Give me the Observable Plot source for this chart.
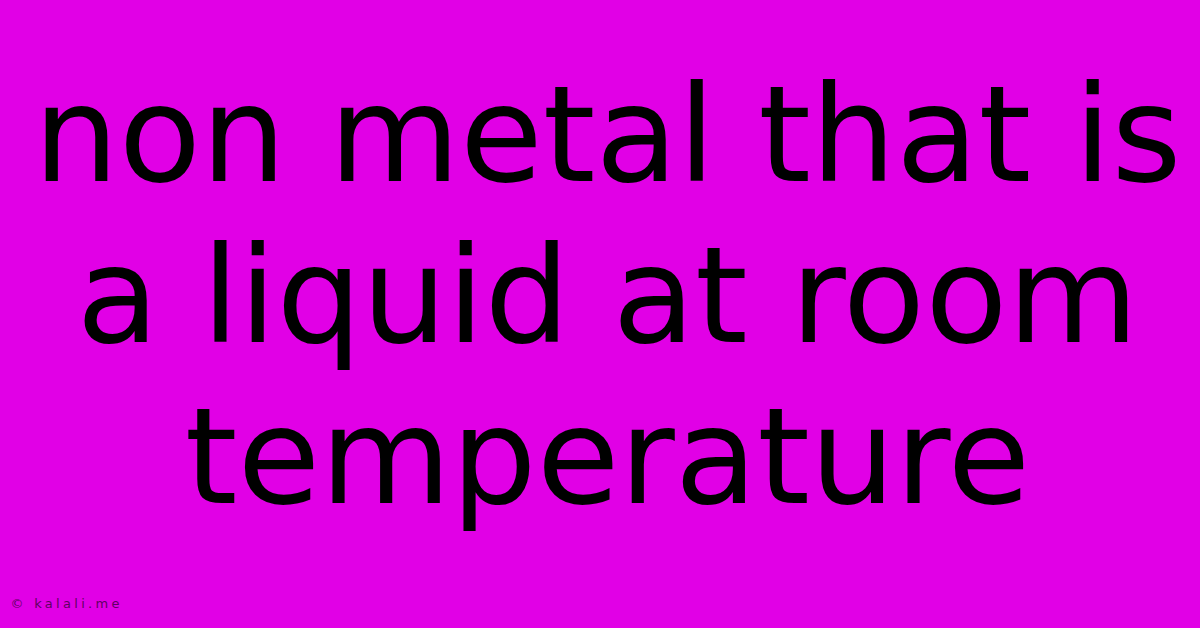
<!DOCTYPE html>
<html>
<head>
<meta charset="utf-8">
<script src="https://cdn.jsdelivr.net/npm/d3@7"></script>
<script src="https://cdn.jsdelivr.net/npm/@observablehq/plot@0.6"></script>
<style>
  html, body { margin: 0; padding: 0; background: #e100e6; }
  #chart svg { display: block; }
</style>
</head>
<body>
<div id="chart"></div>
<script>
const titleLines = ["non metal that is", "a liquid at room", "temperature"];
const credit = ["© kalali.me"];

const chart = Plot.plot({
  width: 1200,
  height: 628,
  margin: 0,
  style: { background: "#e100e6", fontFamily: "DejaVu Sans" },
  x: { axis: null, domain: [0, 1], range: [0, 1200] },
  y: { axis: null, type: "point", padding: 0, domain: titleLines, range: [137, 459] },
  marks: [
    Plot.text(titleLines, {
      x: () => 0.5,
      y: d => d,
      dx: 7,
      text: d => d,
      fontSize: 134.5,
      fill: "#000",
      textAnchor: "middle",
      lineAnchor: "middle",
      fontFamily: "DejaVu Sans"
    }),
    Plot.text(credit, {
      frameAnchor: "bottom-left",
      text: d => d,
      dx: 10,
      dy: -21,
      fontSize: 13,
      fill: "#5e0062",
      textAnchor: "start",
      lineAnchor: "bottom",
      fontFamily: "DejaVu Sans"
    })
  ]
});
document.getElementById("chart").append(chart);
document.querySelectorAll("#chart text").forEach(t => {
  if (t.textContent === credit[0]) t.setAttribute("letter-spacing", "3.3");
});
</script>
</body>
</html>
